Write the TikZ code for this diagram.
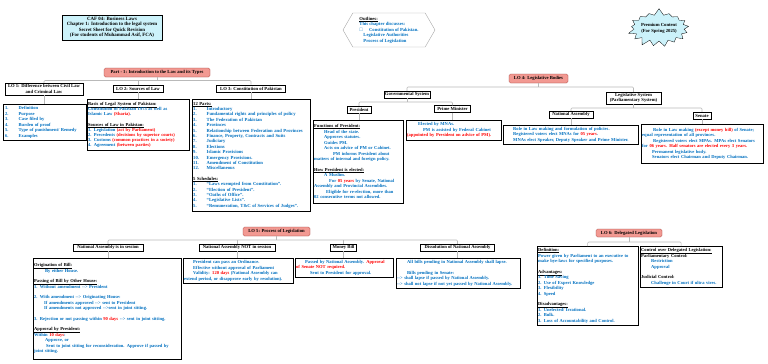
\documentclass[tikz,border=0pt]{standalone}
\usepackage{fontspec}
\setmainfont{Liberation Serif}
\usepackage{amsmath,amssymb}
\usepackage{xcolor}
\usetikzlibrary{shapes.symbols,shadows}

\definecolor{txtblue}{RGB}{0,112,192}
\definecolor{salmon}{RGB}{242,153,146}
\definecolor{titleedge}{RGB}{150,50,45}
\definecolor{headfill}{RGB}{204,242,250}
\newcommand{\boxfont}{\fontsize{9.1}{11}\selectfont\bfseries}
\newcommand{\lblfont}{\fontsize{9.3}{11}\selectfont\bfseries}
\newcommand{\redtxt}[1]{\textcolor{red}{#1}}
\newcommand{\headul}[1]{\textcolor{black}{\underline{#1}}}
\newcommand{\itemno}[1]{\makebox[27pt][l]{#1}}

\begin{document}
\begin{tikzpicture}[x=2pt,y=-2pt,
conn/.style={draw=gray!55,line width=1.1pt,rounded corners=2pt},
ttl/.style={draw=titleedge,fill=salmon,rounded corners=3pt,line width=0.6pt,font=\lblfont,inner sep=1pt},
lbl/.style={draw,line width=0.8pt,fill=white,drop shadow={shadow xshift=0.9pt,shadow yshift=-0.9pt,fill=gray,opacity=1},font=\lblfont,align=center,inner sep=1pt},
txtbox/.style={draw,line width=0.8pt,fill=white,drop shadow={shadow xshift=0.9pt,shadow yshift=-0.9pt,fill=gray,opacity=1},font=\boxfont,text=txtblue,align=left,anchor=north west,inner sep=2pt}]
\useasboundingbox (0,0) rectangle (768,363);

\node[draw,line width=0.8pt,fill=headfill,font={\fontsize{9.8}{10.8}\selectfont\bfseries},align=center,minimum width=200pt,minimum height=50pt,inner sep=1pt] (head) at (112,27.5) {CAF 04: Business Laws\\Chapter 1: Introduction to the legal system\\Secret Sheet for Quick Revision\\(For students of Muhammad Asif, FCA)};
\node[signal,signal to=west and east,signal pointer angle=120,draw=gray!70,line width=0.8pt,minimum width=184pt,minimum height=68pt,font=\lblfont,text=txtblue,align=left,inner sep=1pt] (outl) at (389,30) {\headul{Outlines:}\\This chapter discusses:\\$\square$\hspace{12pt}Constitution of Pakistan.\\\hspace*{8pt}Legislative Authorities\\\hspace*{8pt}Process of Legislation};
\node[starburst,starburst points=17,starburst point height=14pt,random starburst=7,draw,line width=0.6pt,fill=headfill,font={\fontsize{9.3}{12}\selectfont\bfseries},align=center,minimum width=110pt,minimum height=80pt,inner sep=0pt] (prem) at (659,28) {Premium Content\\(For Spring 2025)};

\node[ttl,minimum width=212pt,minimum height=18pt] (part1) at (157,72.5) {Part - 1: Introduction to the Law and its Types};
\node[lbl,minimum width=156pt,minimum height=24pt] (lo1) at (44,89) {LO 1: Difference between Civil Law\\and Criminal Law};
\node[lbl,minimum width=100pt,minimum height=15pt] (lo2) at (138,88.5) {LO 2: Sources of Law};
\node[lbl,minimum width=138pt,minimum height=15pt] (lo3) at (251,88.5) {LO 3: Constitution of Pakistan};
\coordinate (bar1) at (157,80.5);
\draw[conn] (part1.south) -- (bar1);
\draw[conn] (lo1.north) |- (bar1) -| (lo3.north);
\draw[conn] (lo2.north) -- (lo2.north |- bar1);

\node[txtbox,inner xsep=4pt,text width=158pt,minimum height=72pt] (c1) at (3,104) {\itemno{1.}Definition\\\itemno{2.}Purpose\\\itemno{3.}Case filed by\\\itemno{4.}Burden of proof\\\itemno{5.}Type of punishment/ Remedy\\\itemno{6.}Examples};
\node[txtbox,text width=200pt,minimum height=102pt,font={\fontsize{9.1}{10.2}\selectfont\bfseries}] (c2) at (87,99) {\headul{Basis of Legal System of Pakistan:}\\Constitution of Pakistan 1973 as well as\\Islamic Law \redtxt{(Sharia)}.\\[10pt]\headul{Sources of Law in Pakistan:}\\1. Legislation \redtxt{(act by Parliament)}\\2. Precedents \redtxt{(decisions by superior courts)}\\3. Customs \redtxt{(common practices in a society)}\\4. Agreement \redtxt{(between parties)}};
\node[txtbox,text width=232pt,minimum height=224pt,font={\fontsize{9.3}{10.8}\selectfont\bfseries}] (c3) at (192,99) {\headul{12 Parts:}\\\itemno{1.}Introductory\\\itemno{2.}Fundamental rights and principles of policy\\\itemno{3.}The Federation of Pakistan\\\itemno{4.}Provinces\\\itemno{5.}Relationship between Federation and Provinces\\\itemno{6.}Finance, Property, Contracts and Suits\\\itemno{7.}Judiciary\\\itemno{8.}Elections\\\itemno{9.}Islamic Provisions\\\itemno{10.}Emergency Provisions.\\\itemno{11.}Amendment of Constitution\\\itemno{12.}Miscellaneous\\[10pt]\headul{5 Schedules:}\\\itemno{1.}``Laws exempted from Constitution''.\\\itemno{2.}``Election of President''.\\\itemno{3.}``Oaths of Office''.\\\itemno{4.}``Legislative Lists''.\\\itemno{5.}``Remuneration, T\&C of Services of Judges''.};
\draw[conn] (lo1.south) -- (lo1.south |- c1.north);
\draw[conn] (lo2.south) -- (lo2.south |- c2.north);
\draw[conn] (lo3.south) -- (lo3.south |- c3.north);

\node[ttl,minimum width=118pt,minimum height=18pt] (lo4) at (538.5,78.5) {LO 4: Legislative Bodies};
\node[lbl,minimum width=92pt,minimum height=14pt] (gov) at (407,94.5) {Governmental System};
\node[lbl,minimum width=110pt,minimum height=24pt] (leg) at (633.5,98) {Legislative System\\(Parliamentary System)};
\node[lbl,minimum width=48pt,minimum height=14pt] (pres) at (359,109.5) {President};
\node[lbl,minimum width=72pt,minimum height=14pt] (pm) at (452.5,109) {Prime Minister};
\node[lbl,minimum width=88pt,minimum height=14pt] (na) at (571,114.5) {National Assembly};
\node[lbl,minimum width=36pt,minimum height=14pt] (sen) at (702,115.5) {Senate};
\coordinate (bar4) at (538.5,87);
\coordinate (bargov) at (407,102);
\coordinate (barleg) at (633.5,108);
\draw[conn] (lo4.south) -- (bar4);
\draw[conn] (gov.north) |- (bar4) -| (leg.north);
\draw[conn] (gov.south) -- (bargov);
\draw[conn] (pres.north) |- (bargov) -| (pm.north);
\draw[conn] (leg.south) -- (barleg);
\draw[conn] (na.north) |- (barleg) -| (sen.north);

\node[txtbox,text width=176pt,minimum height=166pt] (presc) at (313,120) {\headul{Functions of President:}\\\hspace*{20pt}Head of the state.\\\hspace*{20pt}Approves statutes.\\\hspace*{20pt}Guides PM.\\\hspace*{20pt}Acts on advice of PM or Cabinet.\\\hspace*{38pt}PM informs President about\\matters of internal and foreign policy.\\[10pt]\headul{How President is elected:}\\\hspace*{20pt}A Muslim.\\\hspace*{30pt}For \redtxt{05 years} by Senate, National\\Assembly and Provincial Assemblies.\\\hspace*{24pt}Eligible for re-election, more than\\02 consecutive terms not allowed.};
\node[txtbox,text width=186pt,minimum height=40pt] (pmc) at (406,120) {\hspace*{22pt}Elected by MNAs.\\\hspace*{32pt}PM is assisted by Federal Cabinet\\\redtxt{(appointed by President on advice of PM).}};
\node[txtbox,text width=266pt,minimum height=38pt] (nac) at (503,125) {\hspace*{18pt}Role in Law making and formulation of policies.\\\hspace*{18pt}Registered voters elect MNAs for \redtxt{05 years}.\\\hspace*{18pt}MNAs elect Speaker, Deputy Speaker and Prime Minister.};
\node[txtbox,text width=240pt,minimum height=78pt] (senc) at (641,124) {\hspace*{22pt}Role in Law making \redtxt{(except money bill)} of Senate;\\equal representation of all provinces.\\\hspace*{22pt}Registered voters elect MPAs. MPAs elect Senators\\for \redtxt{06 years. Half senators are elected every 3 years.}\\\hspace*{20pt}Permanent legislative body.\\\hspace*{20pt}Senators elect Chairman and Deputy Chairman.};
\draw[conn] (pres.south) -- (pres.south |- presc.north);
\draw[conn] (pm.south) -- (pm.south |- pmc.north);
\draw[conn] (na.south) -- (na.south |- nac.north);
\draw[conn] (sen.south) -- (sen.south |- senc.north);

\node[ttl,minimum width=134pt,minimum height=18pt] (lo5) at (276.5,231.5) {LO 5: Process of Legislation};
\node[lbl,minimum width=140pt,minimum height=14pt] (nain) at (108,247.5) {National Assembly is in session};
\node[lbl,minimum width=152pt,minimum height=14pt] (nanot) at (237,247.5) {National Assembly NOT in session};
\node[lbl,minimum width=52pt,minimum height=14pt] (money) at (343.5,247.5) {Money Bill};
\node[lbl,minimum width=148pt,minimum height=14pt] (diss) at (457.5,247.5) {Dissolution of National Assembly};
\coordinate (bar5) at (276.5,240);
\draw[conn] (lo5.south) -- (bar5);
\draw[conn] (nain.north) |- (bar5) -| (diss.north);
\draw[conn] (nanot.north) -- (nanot.north |- bar5);
\draw[conn] (money.north) -- (money.north |- bar5);

\node[txtbox,text width=292pt,minimum height=202pt] (nainc) at (33,258) {\headul{Origination of Bill:}\\\hspace*{22pt}By either House.\\[10pt]\headul{Passing of Bill by Other House:}\\1. Without amendment -{}-> President\\[10pt]2. With amendment -{}-> Originating House:\\\hspace*{20pt}If amendments approved -{}-> sent to President\\\hspace*{20pt}If amendments not approved -{}->sent in joint sitting.\\[10pt]3. Rejection or not passing within \redtxt{90 days} -{}-> sent in joint sitting.\\[10pt]\headul{Approval by President:}\\Within \redtxt{10 days}:\\\hspace*{22pt}Approve, or\\\hspace*{24pt}Sent to joint sitting for reconsideration. Approve if passed by\\joint sitting.};
\node[txtbox,text width=216pt,minimum height=50pt] (nanotc) at (183,258) {\hspace*{18pt}President can pass an Ordinance.\\\hspace*{18pt}Effective without approval of Parliament\\\hspace*{18pt}Validity: \redtxt{120 days} (National Assembly can\\extend period, or disapprove early by resolution).};
\node[txtbox,text width=192pt,minimum height=38pt] (moneyc) at (295,258) {\hspace*{18pt}Passed by National Assembly. \redtxt{Approval}\\\redtxt{of Senate NOT required.}\\\hspace*{28pt}Sent to President for approval.};
\node[txtbox,text width=244pt,minimum height=60pt] (dissc) at (396,258) {\hspace*{20pt}All bills pending in National Assembly shall lapse.\\[10pt]\hspace*{20pt}Bills pending in Senate:\\-{}-> shall lapse if passed by National Assembly.\\-{}-> shall not lapse if not yet passed by National Assembly.};
\draw[conn] (nain.south) -- (nain.south |- nainc.north);
\draw[conn] (nanot.south) -- (nanot.south |- nanotc.north);
\draw[conn] (money.south) -- (money.south |- moneyc.north);
\draw[conn] (diss.south) -- (diss.south |- dissc.north);

\node[ttl,minimum width=132pt,minimum height=16pt] (lo6) at (629,233) {LO 6: Delegated Legislation};
\node[txtbox,text width=198pt,minimum height=158pt] (dlc) at (537,246) {\headul{Definition:}\\Power given by Parliament to an executive to\\make bye-laws for specified purposes.\\[10pt]\headul{Advantages:}\\1. Time Saving\\2. Use of Expert Knowledge\\3. Flexibility\\4. Speed\\[10pt]\headul{Disadvantages:}\\1. Unelected/ Irrational.\\2. Bulk.\\3. Loss of Accountability and Control.};
\node[txtbox,text width=160pt,minimum height=82pt] (ctl) at (640,246) {\headul{Control over Delegated Legislation:}\\\textcolor{black}{Parliamentary Control:}\\\hspace*{20pt}Restriction\\\hspace*{20pt}Approval\\[10pt]\textcolor{black}{Judicial Control:}\\\hspace*{20pt}Challenge in Court if ultra vires.};
\coordinate (bar6) at (629,242);
\draw[conn] (lo6.south) -- (bar6);
\draw[conn] (dlc.north) |- (bar6) -| (ctl.north);
\end{tikzpicture}
\end{document}
